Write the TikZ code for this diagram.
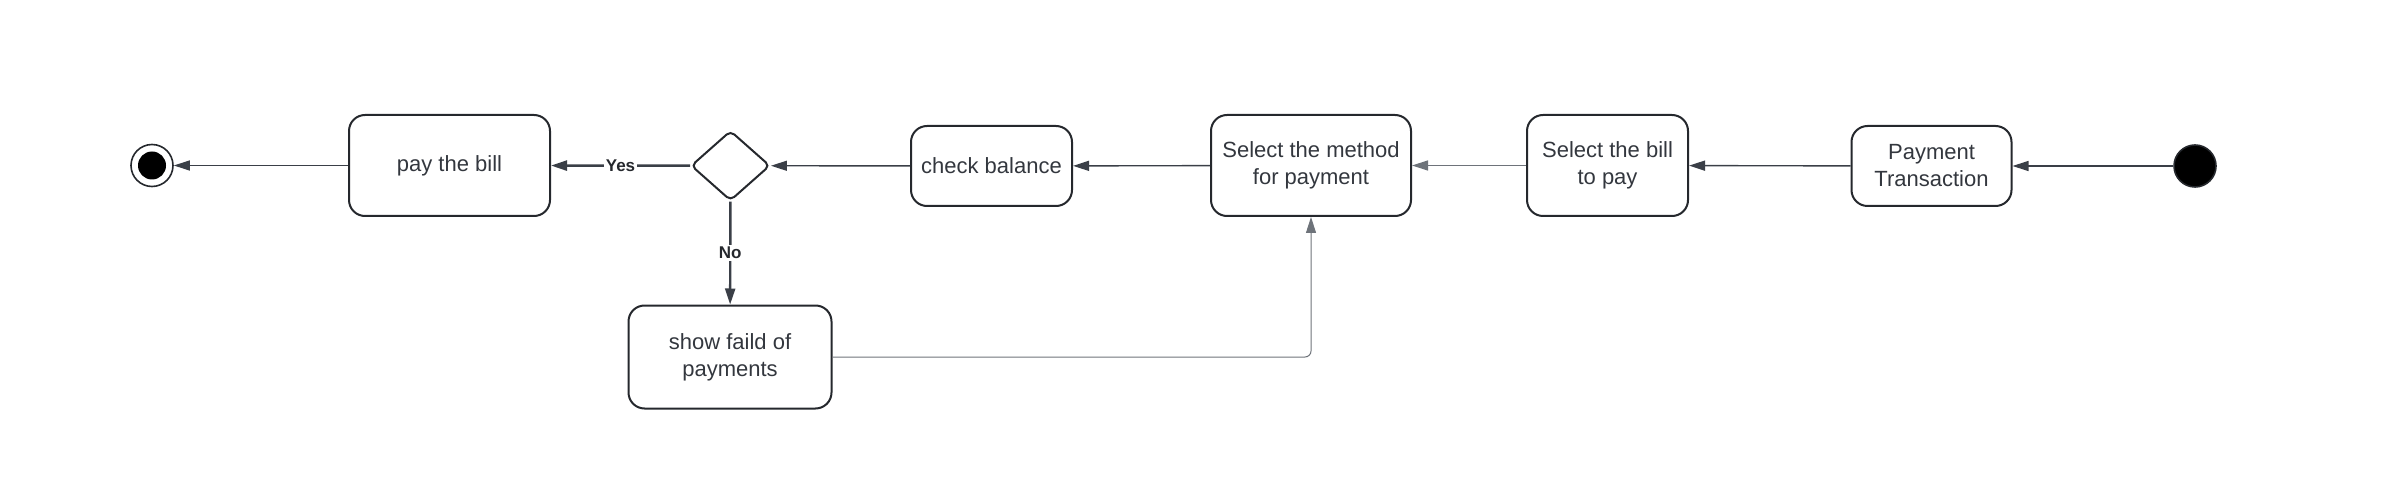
\documentclass[tikz,border=0pt]{standalone}
\usepackage{fontspec}
\setmainfont{Liberation Sans}
\usepackage{tikz}
\usetikzlibrary{arrows.meta, shapes.geometric}

\definecolor{inkline}{HTML}{3A3F47}
\definecolor{inkbox}{HTML}{25282D}
\definecolor{inktext}{HTML}{33373E}
\definecolor{inkback}{HTML}{6E737A}

\tikzset{
    activity/.style={draw=inkbox, line width=1pt, rounded corners=8pt,
        align=center, text=inktext, inner sep=2pt,
        font=\fontsize{11}{13.5}\selectfont},
    choice/.style={draw=inkbox, line width=1pt, diamond, rounded corners=2.5pt,
        inner sep=0pt, minimum width=39.5pt, minimum height=35pt},
    startstate/.style={circle, draw=inkbox, fill=black, line width=0.8pt,
        minimum size=21pt, inner sep=0pt},
    endstate/.style={circle, draw=inkbox, fill=white, line width=0.8pt,
        minimum size=21pt, inner sep=0pt},
    flow/.style={draw=inkline, line width=0.7pt,
        -{Triangle[length=8pt, width=5pt]}},
    decision/.style={flow, line width=1.2pt},
    back/.style={flow, draw=inkback, line width=0.5pt, rounded corners=3pt},
    lbl/.style={fill=white, text=inkbox, inner sep=1pt,
        font=\fontsize{8.5}{10}\selectfont\bfseries}
}

\begin{document}
\begin{tikzpicture}[x=0.5pt, y=-0.5pt]
        \useasboundingbox (0, 0) rectangle (2392, 486);

        \node[startstate] (start) at (2195, 166) {};
        \node[activity, minimum width=80pt, minimum height=40pt] (trans) at (1931.5, 166) {Payment\\Transaction};
        \node[activity, minimum width=80.5pt, minimum height=50.5pt] (selbill) at (1607.5, 165.5) {Select the bill\\to pay};
        \node[activity, minimum width=100pt, minimum height=50.5pt] (selmethod) at (1311, 165.5) {Select the method\\for payment};
        \node[activity, minimum width=80.5pt, minimum height=40pt] (check) at (991.5, 166) {check balance};
        \node[choice] (decide) at (730.5, 165.7) {};
        \node[activity, minimum width=100.5pt, minimum height=50.5pt] (paybill) at (449.5, 165.5) {pay the bill};
        \node[activity, minimum width=101.5pt, minimum height=51.5pt] (fail) at (730, 357) {show faild of\\payments};
        \node[endstate] (end) at (152, 165.5) {};
        \fill (end.center) circle (7pt);

        \draw[flow] (start) -- (trans);
        \draw[flow] (trans) -- (selbill);
        \draw[flow, draw=inkback] (selbill) -- (selmethod);
        \draw[flow] (selmethod) -- (check);
        \draw[flow] (check) -- (decide);
        \draw[decision] (decide) -- node[lbl] {Yes} (paybill);
        \draw[decision] (decide) -- node[lbl] {No} (fail);
        \draw[flow] (paybill) -- (end);
        \draw[back] (fail.east) -| (selmethod.south);
    \end{tikzpicture}
\end{document}
